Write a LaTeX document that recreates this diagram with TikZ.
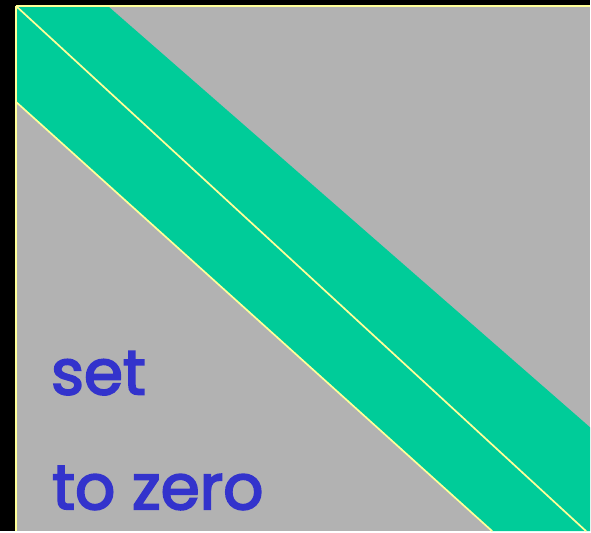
\documentclass[tikz,border=0pt]{standalone}
\usepackage{fontspec}
\setmainfont{Poppins}[BoldFont=Poppins, BoldFeatures={FakeBold=3}]
\definecolor{bandgreen}{RGB}{0,204,153}
\definecolor{matgray}{RGB}{178,178,178}
\definecolor{edgeyellow}{RGB}{255,255,153}
\definecolor{textblue}{RGB}{51,51,204}

\begin{document}
\begin{tikzpicture}[x=1pt, y=-1pt,
  edgeline/.style = {draw=edgeyellow, line width=1.7pt},
  zerotext/.style = {text=textblue, font=\fontsize{63}{63}\selectfont\bfseries,
    anchor=base west, inner sep=0pt},
]
% background and matrix area
\fill[black] (0,0) rectangle (591,532);
\fill[matgray] (16,6) rectangle (591,532);

% corner points of the band
\coordinate (tl) at (16,6);
\coordinate (tr) at (591,6);
\coordinate (bl) at (16,532);
\coordinate (bandtop) at (108,6);
\coordinate (bandleft) at (16,102);
\coordinate (bandrt) at (591,428);
\coordinate (bandbr) at (591,532);
\coordinate (bandbot) at (493,532);
\coordinate (diagend) at (587,532);

% green band
\fill[bandgreen] (tl) -- (bandtop) -- (bandrt) -- (bandbr) -- (bandbot) -- (bandleft) -- cycle;

% yellow edges
\draw[edgeline] (tl) -- (tr);
\draw[edgeline] (tl) -- (bl);
\draw[edgeline] (tl) -- (diagend);
\draw[edgeline] (bandleft) -- (bandbot);

% labels
\node[zerotext] (set) at (51,395) {set};
\node[zerotext] (tozero) at (52,510) {to zero};
\end{tikzpicture}
\end{document}
